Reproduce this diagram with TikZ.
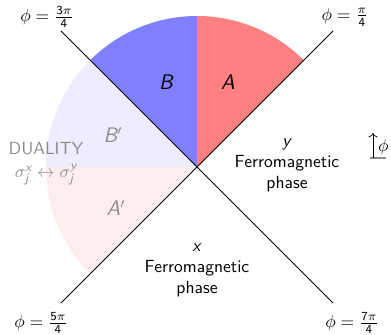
\documentclass[tikz,border=0pt]{standalone}
\usepackage{amsmath}
\usetikzlibrary{arrows.meta}
\definecolor{SectorRed}{HTML}{FF8080}
\definecolor{SectorBlue}{HTML}{8080FF}
\definecolor{FaintRed}{HTML}{FDEEEE}
\definecolor{FaintBlue}{HTML}{EDEDFF}
\definecolor{DualGray}{HTML}{8C8C8C}
\newcommand{\SectorFont}{\sffamily\itshape\large}
\newcommand{\PhaseFont}{\sffamily}
\newcommand{\sfit}[1]{\textit{#1}}

\begin{document}
\begin{tikzpicture}[x=0.02cm, y=0.02cm, font=\PhaseFont]
  \useasboundingbox (-197,-167) rectangle (194,167);
  % sectors
  \fill[FaintBlue] (0,0) -- (135:151) arc (135:180:151) -- cycle;
  \fill[FaintRed] (0,0) -- (180:151) arc (180:225:151) -- cycle;
  \fill[SectorBlue] (0,0) -- (90:151) arc (90:135:151) -- cycle;
  \fill[SectorRed] (0,0) -- (45:151) arc (45:90:151) -- cycle;
  % phase boundaries
  \coordinate (NE) at (136,136);
  \coordinate (NW) at (-136,136);
  \coordinate (SW) at (-136,-136);
  \coordinate (SE) at (136,-136);
  \draw[line width=0.5pt] (NW) -- (SE);
  \draw[line width=0.5pt] (NE) -- (SW);
  \node (lblNW) at (-150,150) {$\phi = \frac{\mathsf{3}\pi}{\mathsf{4}}$};
  \node (lblNE) at (148,150) {$\phi = \frac{\pi}{\mathsf{4}}$};
  \node (lblSW) at (-156,-156) {$\phi = \frac{\mathsf{5}\pi}{\mathsf{4}}$};
  \node (lblSE) at (155,-156) {$\phi = \frac{\mathsf{7}\pi}{\mathsf{4}}$};
  % sector labels
  \node[font=\SectorFont] (secA) at (31,85) {A};
  \node[font=\SectorFont] (secB) at (-31,85) {B};
  \node[font=\SectorFont, text=DualGray] (secBp) at (-84,32) {B$'$};
  \node[font=\SectorFont, text=DualGray] (secAp) at (-81,-41) {A$'$};
  \node[text=DualGray, align=center, font=\PhaseFont] (duality) at (-151,3)
    {DUALITY\\[1pt]$\sigma^{\sfit{x}}_{\sfit{j}} \leftrightarrow \sigma^{\sfit{y}}_{\sfit{j}}$};
  % phases
  \node[align=center, font=\PhaseFont] (yphase) at (90,2)
    {\sfit{y}\\Ferromagnetic\\phase};
  \node[align=center, font=\PhaseFont] (xphase) at (0,-103)
    {\sfit{x}\\Ferromagnetic\\phase};
  % angle indicator
  \coordinate (barL) at (173,9);
  \coordinate (barR) at (189,9);
  \coordinate (arrBase) at (176,9);
  \coordinate (arrTip) at (176,34);
  \draw[DualGray, line width=1.2pt] (barL) -- (barR);
  \draw[->] (arrBase) -- (arrTip);
  \node[anchor=west, inner sep=1pt] (angle) at (179,20) {$\phi$};
\end{tikzpicture}
\end{document}
